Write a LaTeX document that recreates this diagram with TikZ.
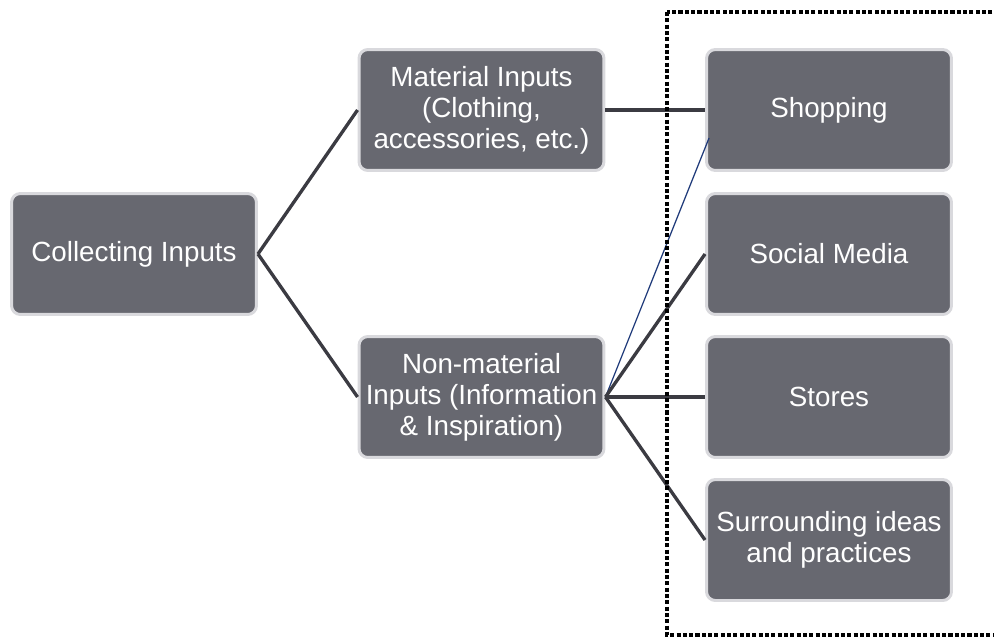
\documentclass[tikz,border=0pt]{standalone}
\usepackage{fontspec}
\setmainfont{Liberation Sans}
\definecolor{boxgrey}{HTML}{676870}
\definecolor{rimgrey}{HTML}{D9D9DD}
\definecolor{linkgrey}{HTML}{3B3B42}
\definecolor{linkblue}{HTML}{1F3A7A}
\begin{document}
\begin{tikzpicture}[x=0.02cm,y=-0.02cm,
		box/.style={draw=rimgrey,fill=boxgrey,line width=1.7pt,rounded corners=5pt,minimum width=4.9cm,minimum height=2.42cm,inner sep=2pt,align=center,text=white,font=\fontsize{15.8}{17.6}\selectfont},
		link/.style={draw=linkgrey,line width=1.9pt}]
		\clip (0,0) rectangle (994,639);
		\node[box] (coll) at (134,254) {Collecting Inputs};
		\node[box] (mat) at (481.5,110) {Material Inputs\\(Clothing,\\accessories, etc.)};
		\node[box] (nonmat) at (481.5,397) {Non-material\\Inputs (Information\\\& Inspiration)};
		\node[box] (shop) at (829,110) {Shopping};
		\node[box] (social) at (829,254) {Social Media};
		\node[box] (stores) at (829,397) {Stores};
		\node[box] (surr) at (829,540) {Surrounding ideas\\and practices};
		\draw[link] (coll.east) -- (mat.west);
		\draw[link] (coll.east) -- (nonmat.west);
		\draw[link] (mat.east) -- (shop.west);
		\draw[linkblue,line width=0.7pt] (nonmat.east) -- ([shift={(4,28)}]shop.west); % thin one
		\draw[link] (nonmat.east) -- (social.west);
		\draw[link] (nonmat.east) -- (stores.west);
		\draw[link] (nonmat.east) -- (surr.west);
		\draw[line width=2.3pt,dash pattern=on 2.3pt off 1.3pt] (667,12) rectangle (1010,635);
	\end{tikzpicture}
\end{document}
